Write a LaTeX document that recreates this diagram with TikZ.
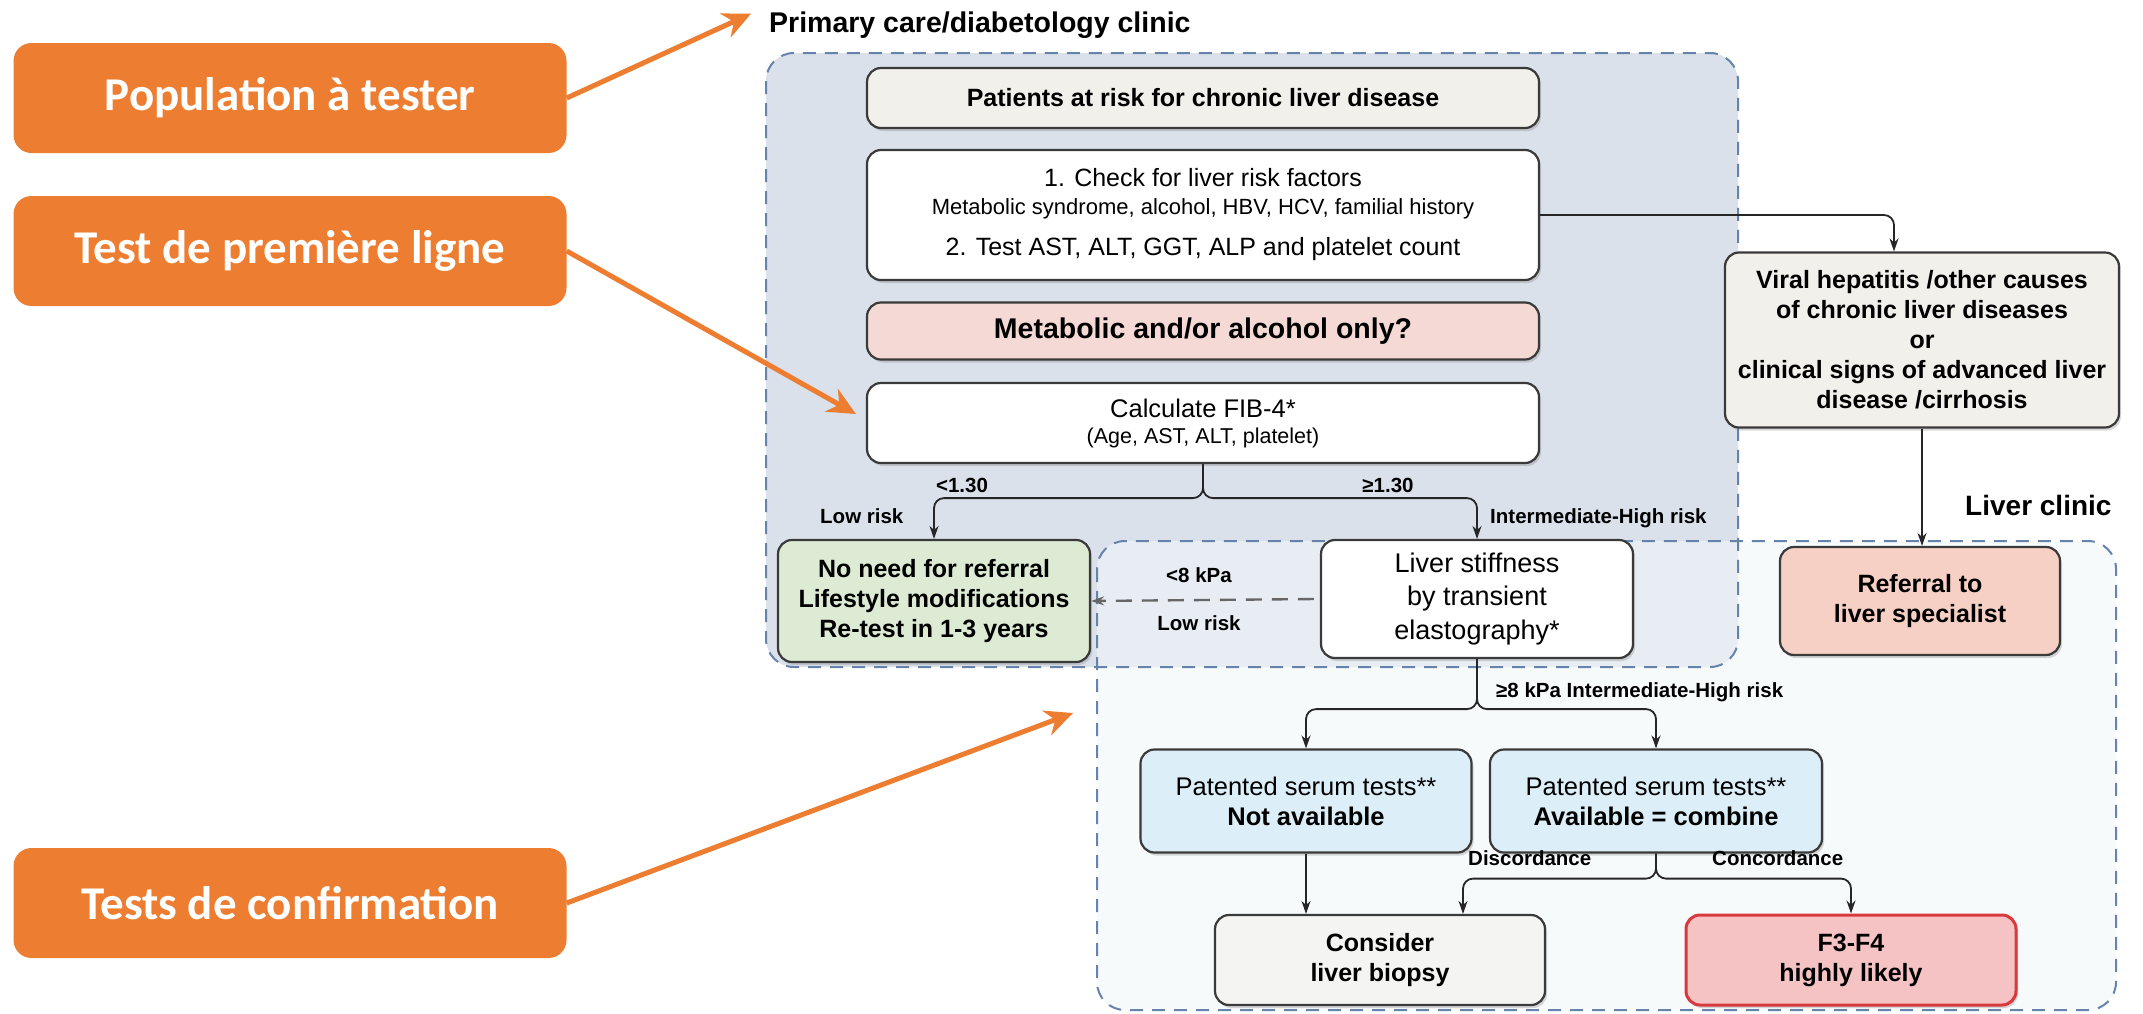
\documentclass[tikz,border=0pt]{standalone}
\usepackage{fontspec}
\setmainfont{Liberation Sans}
\newfontfamily\calibfont{Carlito}
\usetikzlibrary{arrows.meta,shadows}
\definecolor{orng}{HTML}{ED7D31}
\definecolor{zoneA}{HTML}{DAE1EA}
\definecolor{zoneB}{HTML}{F2F6F9}
\definecolor{zoneline}{HTML}{6583AB}
\definecolor{boxline}{HTML}{3A3A3A}
\definecolor{beige}{HTML}{F2F0EB}
\definecolor{rosy}{HTML}{F5D9D4}
\definecolor{mint}{HTML}{DDEBD4}
\definecolor{skyb}{HTML}{DCEFF8}
\definecolor{salmon}{HTML}{F7D0C5}
\definecolor{greyb}{HTML}{F4F4F2}
\definecolor{redf}{HTML}{F6C3C5}
\definecolor{redl}{HTML}{D8393C}
\tikzset{
	box/.style={draw=boxline, line width=2.2pt, rounded corners=14pt, align=center, inner sep=0pt,
		drop shadow={opacity=0.3, shadow xshift=2pt, shadow yshift=-3pt}},
	tag/.style={fill=orng, rounded corners=18pt, text=white, minimum width=553pt, minimum height=110pt,
		font=\calibfont\bfseries\fontsize{47}{50}\selectfont},
	zone/.style={draw=zoneline, line width=2pt, dash pattern=on 13pt off 9pt, rounded corners=28pt},
	arr/.style={draw=black!85, line width=1.8pt, rounded corners=10pt, -{Stealth[length=13pt,width=9pt]}},
	oarr/.style={draw=orng, line width=5pt, -{Stealth[length=28pt,width=26pt]}},
	lbl/.style={font=\bfseries\fontsize{20.5}{24}\selectfont, inner sep=0pt},
	big/.style={font=\fontsize{25.5}{30}\selectfont},
	bigb/.style={font=\bfseries\fontsize{25}{30}\selectfont}
}
\begin{document}
\begin{tikzpicture}[x=1pt, y=-1pt]
	\useasboundingbox (0,0) rectangle (2143,1013);
	\fill[zoneA, rounded corners=28pt] (766,53) rectangle (1738,667);
	\fill[zoneB, opacity=0.6, rounded corners=28pt] (1097,541) rectangle (2116,1010);
	\draw[zone] (766,53) rectangle (1738,667);
	\draw[zone] (1097,541) rectangle (2116,1010);
	\coordinate (confzone) at (1073,713);

	\node[anchor=base west, inner sep=0pt, font=\bfseries\fontsize{28.5}{32}\selectfont] (pcc) at (769,32) {Primary care/diabetology clinic};
	\node[anchor=base west, inner sep=0pt, font=\bfseries\fontsize{28}{32}\selectfont] (lcc) at (1965,515) {Liver clinic};

	\node[tag] (pop) at (290,98) {Population à tester};
	\node[tag] (first) at (290,251) {Test de première ligne};
	\node[tag] (conf) at (290,903) {Tests de confirmation};

	\node[box, fill=beige, minimum width=672pt, minimum height=60pt, font=\bfseries\fontsize{25}{28}\selectfont] (risk) at (1203,98) {Patients at risk for chronic liver disease};
	\node[box, fill=white, minimum width=672pt, minimum height=130pt, font=\fontsize{25}{28}\selectfont] (check) at (1203,215) {1. Check for liver risk factors\\{\fontsize{22}{28}\selectfont Metabolic syndrome, alcohol, HBV, HCV, familial history}\\[13pt]2. Test AST, ALT, GGT, ALP and platelet count};
	\node[box, fill=rosy, minimum width=672pt, minimum height=57pt, font=\bfseries\fontsize{28.5}{32}\selectfont] (meta) at (1203,331) {Metabolic and/or alcohol only?};
	\node[box, fill=white, minimum width=672pt, minimum height=80pt, font=\fontsize{25.5}{26}\selectfont] (fib) at (1203,423) {Calculate FIB-4*\\{\fontsize{21.5}{26}\selectfont (Age, AST, ALT, platelet)}};

	\node[box, bigb, fill=mint, minimum width=312pt, minimum height=122pt] (noneed) at (934,601) {No need for referral\\Lifestyle modifications\\Re-test in 1-3 years};
	\node[box, fill=white, minimum width=312pt, minimum height=118pt, font=\fontsize{27}{33.5}\selectfont] (stiff) at (1477,599) {Liver stiffness\\by transient\\elastography*};
	\node[box, bigb, fill=beige, minimum width=394pt, minimum height=175pt] (viral) at (1922,340) {Viral hepatitis /other causes\\of chronic liver diseases\\or\\clinical signs of advanced liver\\disease /cirrhosis};
	\node[box, bigb, fill=salmon, minimum width=280pt, minimum height=108pt] (spec) at (1920,601) {Referral to\\liver specialist};

	\node[box, big, fill=skyb, minimum width=331pt, minimum height=103pt] (patna) at (1306,801) {Patented serum tests**\\\textbf{Not available}};
	\node[box, big, fill=skyb, minimum width=332pt, minimum height=103pt] (patav) at (1656,801) {Patented serum tests**\\\textbf{Available = combine}};
	\node[box, bigb, fill=greyb, minimum width=330pt, minimum height=90pt] (biopsy) at (1380,960) {Consider\\liver biopsy};
	\node[box, bigb, fill=redf, draw=redl, line width=3pt, minimum width=330pt, minimum height=90pt] (f34) at (1851,960) {F3-F4\\highly likely};

	\node[lbl, anchor=base] (lowcut) at (962,492) {<1.30};
	\node[lbl, anchor=base] (highcut) at (1388,492) {≥1.30};
	\node[lbl, anchor=base west] (lowrisk) at (820,523) {Low risk};
	\node[lbl, anchor=base west] (highrisk) at (1490,523) {Intermediate-High risk};
	\node[lbl, anchor=base] (kpalow) at (1199,582) {<8 kPa};
	\node[lbl, anchor=base] (kparisk) at (1199,630) {Low risk};
	\node[lbl, anchor=base west] (kpahigh) at (1496,697) {≥8 kPa Intermediate-High risk};
	\node[lbl, anchor=base west] (disc) at (1468,865) {Discordance};
	\node[lbl, anchor=base west] (conc) at (1712,865) {Concordance};

	\draw[arr] (fib.south) -- ++(0,34) -| (noneed.north);
	\draw[arr] (fib.south) -- ++(0,34) -| (stiff.north);
	\draw[arr] (check.east) -| ([xshift=-28pt]viral.north);
	\draw[arr] (viral.south) -- (viral.south |- spec.north);
	\draw[draw=black!60, line width=2.4pt, dash pattern=on 16pt off 10pt, -{Stealth[length=13pt,width=9pt]}] ([xshift=-6pt]stiff.west) -- (noneed.east);
	\draw[arr] (stiff.south) -- ++(0,50) -| (patna.north);
	\draw[arr] (stiff.south) -- ++(0,50) -| (patav.north);
	\draw[arr] (patna.south) -- (patna.south |- biopsy.north);
	\draw[arr] (patav.south) -- ++(0,25) -| ([xshift=83pt]biopsy.north);
	\draw[arr] (patav.south) -- ++(0,25) -| (f34.north);

	\draw[oarr] (pop.east) -- ([xshift=-18pt, yshift=11pt]pcc.west);
	\draw[oarr] (first.east) -- ([xshift=-10pt, yshift=9pt]fib.west);
	\draw[oarr] (conf.east) -- (confzone);
\end{tikzpicture}
\end{document}
